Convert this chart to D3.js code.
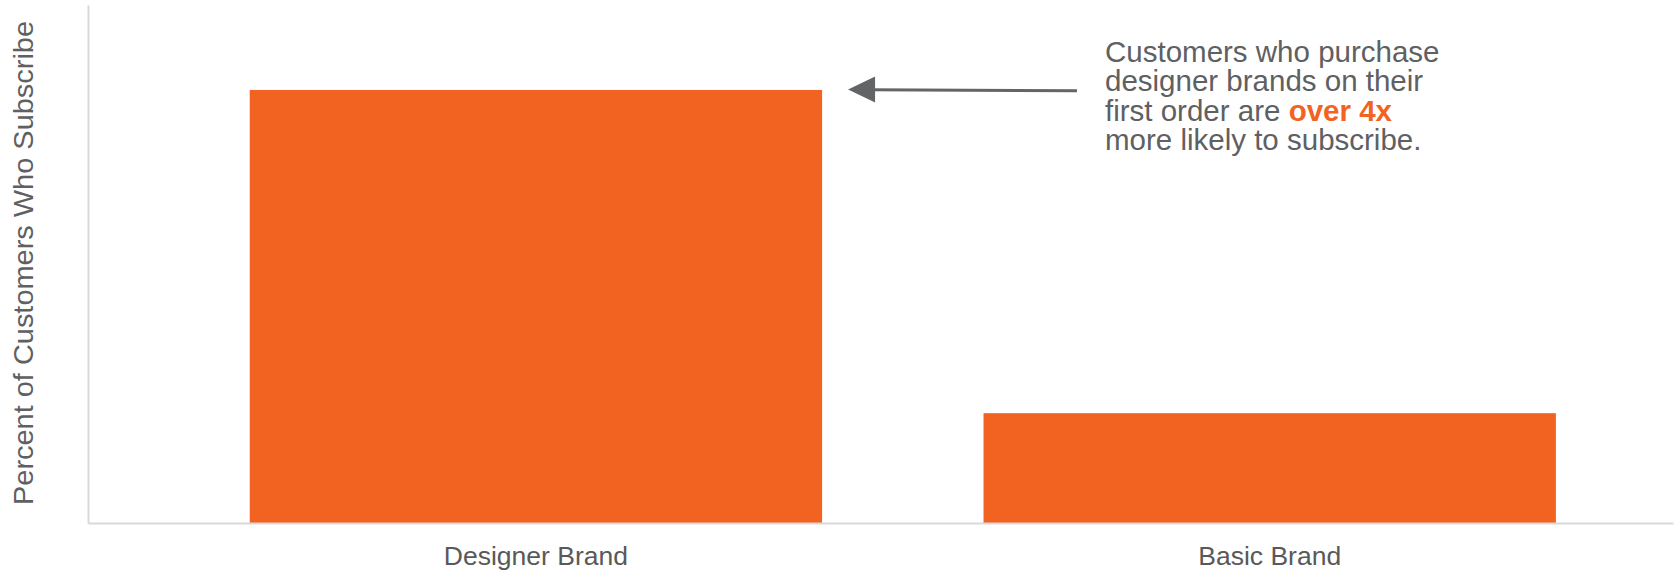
<!DOCTYPE html>
<html>
<head>
<meta charset="utf-8">
<script src="https://cdn.jsdelivr.net/npm/d3@7"></script>
<style>
  body { margin: 0; background: #fff; }
  svg { display: block; font-family: "Liberation Sans", Arial, sans-serif; }
  .axis path { stroke: #d9d9d9; stroke-width: 2; }
  .axis text { fill: #595959; font-size: 26.5px; }
</style>
</head>
<body>
<svg></svg>
<script>
var width = 1676;
var height = 572;

// chart data
var categories = ["Designer Brand", "Basic Brand"];
var values = [20.9, 5.3];
var yDomain = [0, 25];

var noteLines = [
  [{t: "Customers who purchase"}],
  [{t: "designer brands on their"}],
  [{t: "first order are "}, {t: "over 4x", hi: true}],
  [{t: "more likely to subscribe."}]
];
var yTitle = "Percent of Customers Who Subscribe";

var margin = {left: 88, top: 5, right: 3, bottom: 49};
var orange = "#f26322";
var grey = "#5f6062";

var svg = d3.select("svg")
  .attr("width", width)
  .attr("height", height);

var x = d3.scaleBand()
  .domain(categories)
  .range([margin.left, width - margin.right])
  .paddingInner(0.22)
  .paddingOuter(0.19)
  .align(0.58);

var y = d3.scaleLinear()
  .domain(yDomain)
  .range([height - margin.bottom, margin.top]);

// bars
svg.selectAll("rect.bar")
  .data(values)
  .enter()
  .append("rect")
  .attr("class", "bar")
  .attr("x", (d, i) => x(categories[i]))
  .attr("width", x.bandwidth())
  .attr("y", d => y(d))
  .attr("height", d => y(0) - y(d))
  .attr("fill", orange);

// x axis
var xAxis = svg.append("g")
  .attr("class", "axis x")
  .attr("transform", "translate(0," + y(0) + ")")
  .call(d3.axisBottom(x).tickSize(0).tickSizeOuter(0));
xAxis.selectAll("text").attr("y", 42).attr("dy", 0);

// y axis (line only)
svg.append("g")
  .attr("class", "axis y")
  .attr("transform", "translate(" + margin.left + ",0)")
  .call(d3.axisLeft(y).tickValues([]).tickSizeOuter(0));

// y title, stretched a little along its length like the original
svg.append("text")
  .attr("transform", "translate(33,263) rotate(-90)")
  .attr("x", -242)
  .attr("textLength", 484)
  .attr("lengthAdjust", "spacingAndGlyphs")
  .attr("fill", grey)
  .style("font-size", "28px")
  .text(yTitle);

// annotation
var note = svg.append("text")
  .attr("x", 1105)
  .attr("y", 61.5)
  .attr("fill", grey)
  .style("font-size", "29.5px");

noteLines.forEach((line, i) => {
  line.forEach((part, j) => {
    var ts = note.append("tspan").text(part.t);
    if (j == 0) ts.attr("x", 1105).attr("dy", i == 0 ? 0 : 29.6);
    if (part.hi) ts.attr("fill", orange).style("font-weight", "bold");
  });
});

// arrow pointing at the first bar
var tipX = x(categories[0]) + x.bandwidth() + 26;
var tipY = y(values[0]) - 0.5;
svg.append("line")
  .attr("x1", 1077).attr("y1", tipY + 1.2)
  .attr("x2", tipX + 20).attr("y2", tipY + 0.3)
  .attr("stroke", "#636466")
  .attr("stroke-width", 3);
svg.append("path")
  .attr("d", "M" + tipX + "," + tipY + " L" + (tipX + 27) + "," + (tipY - 13) + " L" + (tipX + 27) + "," + (tipY + 13) + " Z")
  .attr("fill", "#636466");
</script>
</body>
</html>
